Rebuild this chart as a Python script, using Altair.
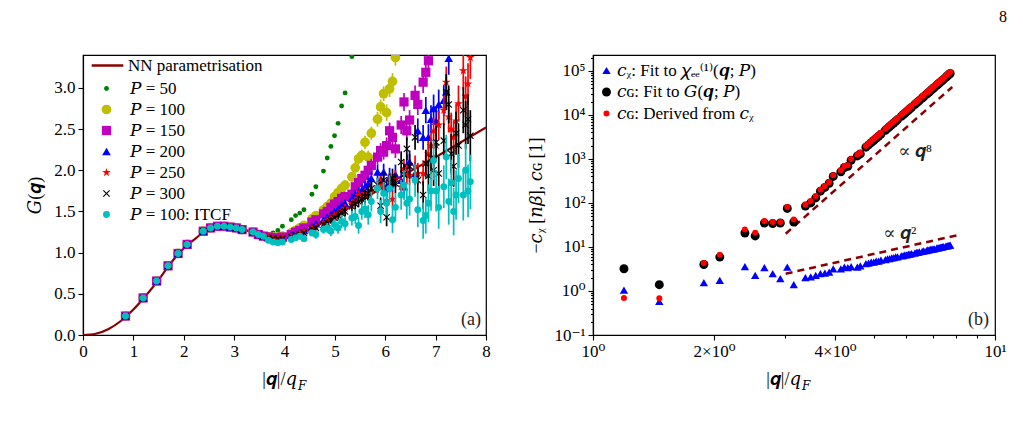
import altair as alt
import pandas as pd

FONT = "Liberation Serif, DejaVu Serif"
DARK_RED = "#8B0000"

# ---------------- panel (a): G(q) ----------------
# NN parametrisation curve
NN_Q = [0.0, 0.25, 0.5, 0.75, 1.0, 1.25, 1.5, 1.75, 2.0, 2.25, 2.5, 2.75, 3.0,
        3.25, 3.5, 3.75, 4.0, 4.25, 4.5, 4.75, 5.0, 5.5, 6.0, 6.5, 7.0, 7.5, 8.0]
NN_G = [0.0, 0.015, 0.07, 0.17, 0.31, 0.48, 0.67, 0.88, 1.05, 1.18, 1.29, 1.32, 1.31,
        1.27, 1.22, 1.19, 1.19, 1.22, 1.28, 1.36, 1.45, 1.63, 1.81, 1.99, 2.16, 2.34, 2.52]

# low-|q| points shared by every P
Q_LOW = [0.844, 1.194, 1.462, 1.688, 1.887, 2.067, 2.387, 2.532, 2.669, 2.799,
         2.924, 3.043, 3.158, 3.376, 3.480, 3.581]
G_LOW = [0.23, 0.45, 0.655, 0.84, 0.99, 1.10, 1.26, 1.30, 1.32, 1.32,
         1.31, 1.30, 1.28, 1.25, 1.22, 1.20]
E_LOW = [0.005, 0.005, 0.005, 0.005, 0.005, 0.005, 0.005, 0.005, 0.005, 0.005,
         0.005, 0.005, 0.005, 0.005, 0.005, 0.005]

# higher |q| grid
Q_HIGH = [3.679, 3.774, 3.868, 3.959, 4.135, 4.220, 4.304, 4.386, 4.545, 4.623,
          4.774, 4.848, 4.921, 4.993, 5.064, 5.134, 5.203, 5.338, 5.404, 5.470,
          5.534, 5.598, 5.662, 5.724, 5.847, 5.908, 5.968, 6.027, 6.086, 6.144,
          6.202, 6.316, 6.372, 6.428, 6.483, 6.592, 6.646, 6.752, 6.805, 6.857,
          6.908, 6.960, 7.011, 7.061, 7.162, 7.211, 7.260, 7.309, 7.358, 7.406,
          7.454, 7.549, 7.596, 7.643, 7.689]

G_P50 = [1.22, 1.24, 1.27, 1.32, 1.40, 1.45, 1.48, 1.52, 1.71, 1.80, 1.99, 2.15,
         2.29, 2.42, 2.57, 2.78, 2.94, 3.38]
E_P50 = [0.01, 0.01, 0.01, 0.01, 0.01, 0.01, 0.01, 0.01, 0.01, 0.01, 0.01, 0.01,
         0.01, 0.01, 0.01, 0.01, 0.01, 0.01]

G_P100 = [1.19, 1.19, 1.19, 1.20, 1.24, 1.27, 1.30, 1.33, 1.41, 1.45, 1.52, 1.56,
          1.60, 1.68, 1.73, 1.78, 1.82, 1.92, 2.03, 2.14, 2.18, 2.34, 2.16, 2.45,
          2.62, 2.77, 2.93, 2.70, 2.99, 3.08, 3.37]
E_P100 = [0.01, 0.01, 0.01, 0.02, 0.02, 0.02, 0.03, 0.03, 0.03, 0.04, 0.04, 0.04,
          0.05, 0.05, 0.05, 0.06, 0.06, 0.06, 0.07, 0.07, 0.07, 0.08, 0.08, 0.08,
          0.09, 0.09, 0.09, 0.10, 0.10, 0.10, 0.10]

G_P150 = [1.19, 1.18, 1.18, 1.19, 1.22, 1.25, 1.27, 1.30, 1.37, 1.40, 1.47, 1.50,
          1.55, 1.59, 1.62, 1.66, 1.68, 1.71, 1.80, 1.85, 1.90, 1.94, 2.00, 2.06,
          2.16, 2.24, 2.22, 2.30, 2.48, 2.40, 2.26, 2.55, 2.83, 2.48, 2.61, 2.91,
          2.80, 3.07, 3.19, 3.33]
E_P150 = [0.01, 0.01, 0.01, 0.02, 0.02, 0.02, 0.03, 0.03, 0.03, 0.04, 0.04, 0.04,
          0.05, 0.05, 0.05, 0.06, 0.06, 0.06, 0.07, 0.07, 0.07, 0.08, 0.08, 0.08,
          0.09, 0.09, 0.09, 0.10, 0.10, 0.10, 0.11, 0.11, 0.11, 0.12, 0.12, 0.12,
          0.13, 0.13, 0.13, 0.14]

G_P200 = [1.19, 1.18, 1.18, 1.18, 1.21, 1.23, 1.25, 1.27, 1.32, 1.35, 1.40, 1.43,
          1.46, 1.50, 1.53, 1.57, 1.60, 1.66, 1.70, 1.73, 1.76, 1.80, 1.84, 1.90,
          1.98, 1.88, 1.98, 1.78, 1.92, 1.85, 1.95, 1.88, 1.80, 2.06, 2.10, 1.96,
          2.48, 2.40, 2.73, 2.40, 2.62, 2.75, 2.60, 2.80, 2.85, 2.95, 3.36]
E_P200 = [0.01, 0.01, 0.01, 0.01, 0.02, 0.02, 0.02, 0.02, 0.03, 0.03, 0.03, 0.04,
          0.04, 0.04, 0.05, 0.05, 0.05, 0.06, 0.06, 0.06, 0.07, 0.07, 0.08, 0.08,
          0.09, 0.09, 0.10, 0.10, 0.11, 0.11, 0.12, 0.12, 0.13, 0.13, 0.14, 0.14,
          0.15, 0.15, 0.16, 0.16, 0.17, 0.17, 0.18, 0.18, 0.19, 0.19, 0.20]

G_P250 = [1.19, 1.18, 1.18, 1.18, 1.20, 1.22, 1.24, 1.26, 1.30, 1.32, 1.36, 1.39,
          1.42, 1.45, 1.48, 1.51, 1.54, 1.60, 1.63, 1.70, 1.66, 1.72, 1.70, 1.76,
          1.80, 1.85, 1.78, 1.63, 1.88, 1.65, 1.90, 1.80, 2.02, 1.95, 1.94, 2.05,
          1.96, 1.96, 2.10, 2.20, 2.30, 2.48, 2.30, 2.55, 2.73, 3.07, 2.65, 2.50,
          2.40, 2.60, 2.81, 3.21, 2.90, 3.05, 3.37]
E_P250 = [0.01, 0.01, 0.01, 0.01, 0.01, 0.02, 0.02, 0.02, 0.02, 0.03, 0.03, 0.03,
          0.03, 0.04, 0.04, 0.04, 0.05, 0.05, 0.05, 0.06, 0.06, 0.06, 0.07, 0.07,
          0.08, 0.08, 0.08, 0.09, 0.09, 0.10, 0.10, 0.11, 0.11, 0.12, 0.12, 0.13,
          0.13, 0.14, 0.14, 0.15, 0.15, 0.16, 0.16, 0.17, 0.18, 0.19, 0.19, 0.20,
          0.20, 0.21, 0.22, 0.23, 0.24, 0.25, 0.26]

G_P300 = [1.18, 1.17, 1.17, 1.17, 1.19, 1.21, 1.22, 1.24, 1.28, 1.30, 1.34, 1.36,
          1.39, 1.42, 1.45, 1.48, 1.50, 1.56, 1.59, 1.62, 1.65, 1.68, 1.72, 1.78,
          1.82, 1.57, 1.88, 1.43, 1.85, 1.90, 1.84, 2.10, 1.95, 2.26, 2.05, 2.40,
          1.88, 1.70, 2.08, 1.93, 2.15, 2.00, 2.34, 1.96, 2.36, 2.95, 2.80, 2.20,
          2.05, 2.45, 2.30, 2.73, 2.55, 2.62, 2.42]
E_P300 = [0.01, 0.01, 0.01, 0.01, 0.01, 0.02, 0.02, 0.02, 0.03, 0.03, 0.03, 0.04,
          0.04, 0.04, 0.05, 0.05, 0.06, 0.06, 0.06, 0.07, 0.07, 0.08, 0.08, 0.09,
          0.09, 0.10, 0.10, 0.11, 0.11, 0.12, 0.12, 0.13, 0.13, 0.14, 0.15, 0.15,
          0.16, 0.17, 0.17, 0.18, 0.19, 0.19, 0.20, 0.21, 0.21, 0.22, 0.23, 0.24,
          0.25, 0.26, 0.27, 0.28, 0.29, 0.30, 0.31]

G_ITCF = [1.15, 1.13, 1.12, 1.13, 1.16, 1.18, 1.20, 1.17, 1.24, 1.22, 1.28, 1.30,
          1.26, 1.34, 1.30, 1.38, 1.35, 1.42, 1.44, 1.33, 1.50, 1.53, 1.46, 1.62,
          1.78, 1.50, 1.72, 1.60, 1.78, 1.40, 1.55, 1.70, 1.82, 1.60, 1.65, 1.88,
          1.52, 1.39, 1.45, 1.60, 1.75, 2.12, 1.75, 1.55, 1.80, 2.16, 1.62, 1.85,
          1.50, 1.70, 1.90, 1.70, 2.00, 1.75, 1.86]
E_ITCF = [0.01, 0.01, 0.02, 0.02, 0.03, 0.03, 0.03, 0.04, 0.04, 0.05, 0.05, 0.06,
          0.06, 0.07, 0.07, 0.08, 0.08, 0.09, 0.09, 0.10, 0.10, 0.11, 0.12, 0.12,
          0.13, 0.14, 0.14, 0.15, 0.16, 0.16, 0.17, 0.18, 0.18, 0.19, 0.20, 0.20,
          0.21, 0.22, 0.22, 0.23, 0.24, 0.24, 0.25, 0.26, 0.26, 0.27, 0.28, 0.28,
          0.29, 0.30, 0.30, 0.31, 0.32, 0.32, 0.33]

P_ = "\U0001D443"
LABELS_A = [f"{P_} = 50", f"{P_} = 100", f"{P_} = 150", f"{P_} = 200",
            f"{P_} = 250", f"{P_} = 300", f"{P_} = 100: ITCF"]
TAILS_A = [(G_P50, E_P50), (G_P100, E_P100), (G_P150, E_P150), (G_P200, E_P200),
           (G_P250, E_P250), (G_P300, E_P300), (G_ITCF, E_ITCF)]
COLORS_A = ["#008000", "#BFBF00", "#BF00BF", "#0000FF", "#FF0000", "#000000", "#00BFBF"]
STAR = ("M0,-1L0.22,-0.3L0.95,-0.31L0.36,0.12L0.59,0.81L0,0.38L-0.59,0.81"
        "L-0.36,0.12L-0.95,-0.31L-0.22,-0.3Z")
CROSS = ("M-1,-0.78L-0.78,-1L0,-0.22L0.78,-1L1,-0.78L0.22,0L1,0.78L0.78,1"
         "L0,0.22L-0.78,1L-1,0.78L-0.22,0Z")
SHAPES_A = ["circle", "circle", "square", "triangle-up", STAR, CROSS, "circle"]
SIZES_A = [24, 95, 85, 75, 85, 50, 48]

rows = []
for label, (tail, err) in zip(LABELS_A, TAILS_A):
    qs = Q_LOW + Q_HIGH[:len(tail)]
    gs = G_LOW + tail
    es = E_LOW + err
    for q, g, e in zip(qs, gs, es):
        rows.append({"series": label, "q": q, "G": g, "lo": g - e, "hi": g + e})
df_a = pd.DataFrame(rows)
df_nn = pd.DataFrame({"q": NN_Q, "G": NN_G, "name": ["NN parametrisation"] * len(NN_Q)})

W_A, W_B, H = 403, 402, 280

x_a = alt.Scale(domain=[0, 8], nice=False, zero=False)
y_a = alt.Scale(domain=[0, 3.4], nice=False, zero=False)
ax_xa = alt.Axis(values=[0, 1, 2, 3, 4, 5, 6, 7, 8], format="d", title=None,
                 tickSize=5, labelPadding=3, labelFlush=False)
ax_ya = alt.Axis(values=[0, 0.5, 1.0, 1.5, 2.0, 2.5, 3.0], format=".1f",
                 title="\U0001D43A(\U0001D492)", tickSize=5, labelPadding=3,
                 titlePadding=9, labelFlush=False)

fill_a = alt.Scale(domain=LABELS_A, range=COLORS_A)
shape_a = alt.Scale(domain=LABELS_A, range=SHAPES_A)
size_a = alt.Scale(type="ordinal", domain=LABELS_A, range=SIZES_A)
leg_a = alt.Legend(title=None, orient="none", legendX=15, legendY=25, padding=0,
                   labelFont=FONT, labelFontSize=17, labelColor="black",
                   rowPadding=3, labelOffset=15, symbolOpacity=1)

nn_line = alt.Chart(df_nn).mark_line(strokeWidth=2.2, interpolate="monotone", clip=True).encode(
    x=alt.X("q:Q", scale=x_a, axis=ax_xa),
    y=alt.Y("G:Q", scale=y_a, axis=ax_ya),
    color=alt.Color("name:N", scale=alt.Scale(domain=["NN parametrisation"], range=[DARK_RED]),
                    legend=alt.Legend(title=None, orient="none", legendX=7, legendY=-7,
                                      padding=0, symbolType="stroke", symbolSize=1000,
                                      symbolStrokeWidth=2.5, labelFont=FONT,
                                      labelFontSize=17, labelColor="black",
                                      labelOffset=3)),
)

layers_a = [nn_line]
for label, colr in zip(LABELS_A, COLORS_A):
    sub = alt.Chart(df_a).transform_filter(alt.datum.series == label)
    layers_a.append(sub.mark_rule(strokeWidth=1.7, clip=True, color=colr).encode(
        x=alt.X("q:Q", scale=x_a, axis=ax_xa),
        y=alt.Y("lo:Q", scale=y_a, axis=ax_ya),
        y2="hi:Q",
    ))
    layers_a.append(sub.mark_point(filled=True, opacity=1, clip=True).encode(
        x=alt.X("q:Q", scale=x_a, axis=ax_xa),
        y=alt.Y("G:Q", scale=y_a, axis=ax_ya),
        fill=alt.Fill("series:N", scale=fill_a, legend=leg_a),
        shape=alt.Shape("series:N", scale=shape_a, legend=leg_a),
        size=alt.Size("series:N", scale=size_a, legend=leg_a),
    ))

tag_a = alt.Chart(pd.DataFrame({"q": [7.9], "G": [0.18], "t": ["(a)"]})).mark_text(
    align="right", baseline="middle", font=FONT, fontSize=18, color="#222").encode(
    x=alt.X("q:Q", scale=x_a, axis=ax_xa), y=alt.Y("G:Q", scale=y_a, axis=ax_ya), text="t:N")

XT_MAIN = ["|\U0001D492|/\U0001D45E"]
XT_SUB = ["\U0001D439"]
xt_a1 = alt.Chart(pd.DataFrame({"t": XT_MAIN})).mark_text(
    align="right", baseline="middle", font=FONT, fontSize=18, color="black").encode(
    x=alt.value(214), y=alt.value(H + 45), text="t:N")
xt_a2 = alt.Chart(pd.DataFrame({"t": XT_SUB})).mark_text(
    align="left", baseline="middle", font=FONT, fontSize=12, color="black").encode(
    x=alt.value(215), y=alt.value(H + 51), text="t:N")

panel_a = alt.layer(*layers_a, tag_a, xt_a1, xt_a2).properties(width=W_A, height=H)

# ---------------- panel (b): fit coefficients ----------------
RQ = [1.194, 1.462, 1.887, 2.067, 2.387, 2.532, 2.669, 2.799, 2.924, 3.043,
      3.158, 3.376, 3.480, 3.581, 3.679, 3.774, 3.868, 3.959, 4.135, 4.220,
      4.304, 4.386, 4.545, 4.623, 4.774,
      4.848, 4.921, 4.993, 5.064, 5.134, 5.203, 5.338, 5.404, 5.470, 5.534,
      5.598, 5.662, 5.724, 5.847, 5.908, 5.968, 6.027, 6.086, 6.144, 6.202,
      6.316, 6.372, 6.428, 6.483, 6.592, 6.646, 6.752, 6.805, 6.857, 6.908,
      6.960, 7.011, 7.061, 7.162, 7.211, 7.260, 7.309, 7.358, 7.406, 7.454,
      7.549, 7.596, 7.643, 7.689, 7.735]
C_CHI = [1.04, 0.58, 1.55, 1.75, 3.6, 2.27, 3.4, 2.47, 1.9, 3.5,
         1.39, 2.0, 2.08, 2.27, 2.47, 2.56, 2.68, 3.2, 3.2, 3.5,
         3.4, 3.6, 3.5, 3.7, 4.2,
         4.31, 4.50, 4.52, 4.75, 4.80, 5.02, 5.18, 5.40, 5.45, 5.66,
         5.70, 5.93, 5.95, 6.30, 6.35, 6.60, 6.58, 6.85, 6.88, 7.10,
         7.28, 7.50, 7.52, 7.78, 7.92, 8.15, 8.30, 8.55, 8.58, 8.82,
         8.85, 9.08, 9.10, 9.45, 9.50, 9.72, 9.75, 9.98, 10.0, 10.25,
         10.4, 10.62, 10.68, 10.9, 10.95]
C_G_FIT = [3.2, 1.39, 4.0, 5.9, 20.8, 17.8, 35, 34, 35, 75,
           37, 85, 100, 130, 185, 225, 280, 400, 510, 640,
           680, 930, 1170, 1300, 1850,
           2080, 2340, 2620, 2940, 3280, 3650, 4480, 4940, 5450, 5980,
           6560, 7190, 7850, 9290, 10110, 10940, 11850, 12790, 13830, 14890,
           17210, 18480, 19830, 21220, 24250, 25920, 29370, 31250, 33240, 35300,
           37470, 39700, 41950, 47060, 49740, 52480, 55420, 58440, 61610, 64820,
           71720, 75460, 79190, 83110, 87240]
C_G_DER = [0.69, 0.68, 4.3, 6.7, 25, 21, 39, 37, 37, 81,
           42, 91, 111, 144, 200, 243, 300, 427, 550, 690,
           720, 1000, 1250, 1390, 1970,
           2250, 2530, 2850, 3190, 3560, 3950, 4860, 5350, 5900, 6470,
           7100, 7780, 8490, 10050, 10940, 11840, 12820, 13840, 14960, 16110,
           18620, 20000, 21460, 22960, 26240, 28050, 31780, 33820, 35970, 38200,
           40550, 42960, 45400, 50930, 53830, 56790, 59980, 63240, 66680, 70150,
           77620, 81660, 85700, 89950, 94410]

LABELS_B = ["\U0001D450\u1D6A: Fit to \U0001D712\u2091\u2091\u207D\u00B9\u207E(\U0001D492; \U0001D443)",
            "\U0001D450\u0262: Fit to \U0001D43A(\U0001D492; \U0001D443)",
            "\U0001D450\u0262: Derived from \U0001D450\u1D6A"]
COLORS_B = ["#0000FF", "#000000", "#FF0000"]
SHAPES_B = ["triangle-up", "circle", "circle"]
SIZES_B = [70, 80, 36]

rows_b = []
for label, vals in zip(LABELS_B, [C_CHI, C_G_FIT, C_G_DER]):
    for q, c in zip(RQ, vals):
        rows_b.append({"series": label, "q": q, "c": c})
df_b = pd.DataFrame(rows_b)

# guide lines  ∝ q^8  and  ∝ q^2
GUIDE_Q8 = [3.015, 7.83]
GUIDE_C8 = [20.0, 43250.0]
GUIDE_Q2 = [3.015, 8.06]
GUIDE_C2 = [2.47, 18.5]
df_guide = pd.DataFrame({"q": GUIDE_Q8 + GUIDE_Q2, "c": GUIDE_C8 + GUIDE_C2,
                         "g": ["q8", "q8", "q2", "q2"]})

x_b = alt.Scale(type="log", domain=[1, 10], nice=False)
y_b = alt.Scale(type="log", domain=[0.1, 230000], nice=False)
SUP = "['10\u207B\u00B9','10\u2070','10\u00B9','10\u00B2','10\u00B3','10\u2074','10\u2075']"
ax_xb = alt.Axis(values=[1, 2, 4, 10], title=None, tickSize=5, labelPadding=3, orient="bottom",
                 labelFlush=False,
                 labelExpr="datum.value == 1 ? '10\u2070' : datum.value == 2 ? '2\u00D710\u2070' : "
                           "datum.value == 4 ? '4\u00D710\u2070' : '10\u00B9'")
ax_yb = alt.Axis(values=[0.1, 1, 10, 100, 1000, 10000, 100000], tickSize=5, labelPadding=3,
                 orient="left", labelExpr=SUP + "[round(log(datum.value) / LN10) + 1]",
                 title="\u2212\U0001D450\u1D6A [\U0001D45B\U0001D6FD], \U0001D450\u0262 [1]",
                 titlePadding=8, labelFlush=False)
MINOR_X = [3, 5, 6, 7, 8, 9]
MINOR_Y = [m * 10.0 ** e for e in range(-1, 6) for m in range(2, 10) if m * 10.0 ** e < 230000]
ax_xb_minor = alt.Axis(values=MINOR_X, labels=False, domain=False, tickSize=3, title=None,
                       orient="bottom", grid=False)
ax_yb_minor = alt.Axis(values=MINOR_Y, labels=False, domain=False, tickSize=2.5, title=None,
                       orient="left", grid=False)

fill_b = alt.Scale(domain=LABELS_B, range=COLORS_B)
shape_b = alt.Scale(domain=LABELS_B, range=SHAPES_B)
size_b = alt.Scale(type="ordinal", domain=LABELS_B, range=SIZES_B)
leg_b = alt.Legend(title=None, orient="none", legendX=5, legendY=7, padding=0,
                   labelFont=FONT, labelFontSize=17, labelColor="black",
                   rowPadding=3.5, labelOffset=2, symbolOpacity=1)

guides = alt.Chart(df_guide).mark_line(color=DARK_RED, strokeWidth=2.5, strokeDash=[7, 5],
                                       clip=True).encode(
    x=alt.X("q:Q", scale=x_b, axis=ax_xb_minor),
    y=alt.Y("c:Q", scale=y_b, axis=ax_yb_minor),
    detail="g:N",
)

layers_b = [guides]
for i, label in enumerate(LABELS_B):
    sub = alt.Chart(df_b).transform_filter(alt.datum.series == label)
    layers_b.append(sub.mark_point(filled=True, opacity=1, clip=True).encode(
        x=alt.X("q:Q", scale=x_b, axis=ax_xb if i == 0 else None),
        y=alt.Y("c:Q", scale=y_b, axis=ax_yb if i == 0 else None),
        fill=alt.Fill("series:N", scale=fill_b, legend=leg_b),
        shape=alt.Shape("series:N", scale=shape_b, legend=leg_b),
        size=alt.Size("series:N", scale=size_b, legend=leg_b),
    ))

ANN_T = ["\u221D \U0001D492\u2078", "\u221D \U0001D492\u00B2", "(b)"]
ANN_Q = [6.33, 5.8, 9.66]
ANN_C = [1450, 19.5, 0.22]
ANN_AL = ["center", "center", "right"]
ann = []
for t, q, c, al in zip(ANN_T, ANN_Q, ANN_C, ANN_AL):
    ann.append(alt.Chart(pd.DataFrame({"q": [q], "c": [c], "t": [t]})).mark_text(
        align=al, baseline="middle", font=FONT, fontSize=18, color="#222").encode(
        x=alt.X("q:Q", scale=x_b, axis=None), y=alt.Y("c:Q", scale=y_b, axis=None), text="t:N"))

xt_b1 = alt.Chart(pd.DataFrame({"t": XT_MAIN})).mark_text(
    align="right", baseline="middle", font=FONT, fontSize=18, color="black").encode(
    x=alt.value(208), y=alt.value(H + 45), text="t:N")
xt_b2 = alt.Chart(pd.DataFrame({"t": XT_SUB})).mark_text(
    align="left", baseline="middle", font=FONT, fontSize=12, color="black").encode(
    x=alt.value(209), y=alt.value(H + 51), text="t:N")
page = alt.Chart(pd.DataFrame({"t": ["8"]})).mark_text(
    align="center", baseline="middle", font=FONT, fontSize=16, color="black").encode(
    x=alt.value(410), y=alt.value(-38), text="t:N")

panel_b = alt.layer(*layers_b, *ann, xt_b1, xt_b2, page).resolve_axis(
    x="independent", y="independent").properties(width=W_B, height=H)

chart = alt.hconcat(panel_a, panel_b, spacing=36).resolve_scale(
    fill="independent", shape="independent", size="independent",
    color="independent", stroke="independent",
).resolve_legend(
    fill="independent", shape="independent", size="independent",
    color="independent", stroke="independent",
).properties(
    padding={"left": 26, "top": 8, "right": 5, "bottom": 5},
    background="white",
).configure_view(stroke="black", strokeWidth=1.2).configure_axis(
    domainColor="black", tickColor="black", labelColor="black", labelFont=FONT,
    labelFontSize=17, titleFont=FONT, titleFontSize=18, titleColor="black",
    titleFontWeight="normal", grid=False, domainWidth=1.2, tickWidth=1.1,
)

chart.save("out.html", embed_options={"renderer": "svg", "actions": False})
